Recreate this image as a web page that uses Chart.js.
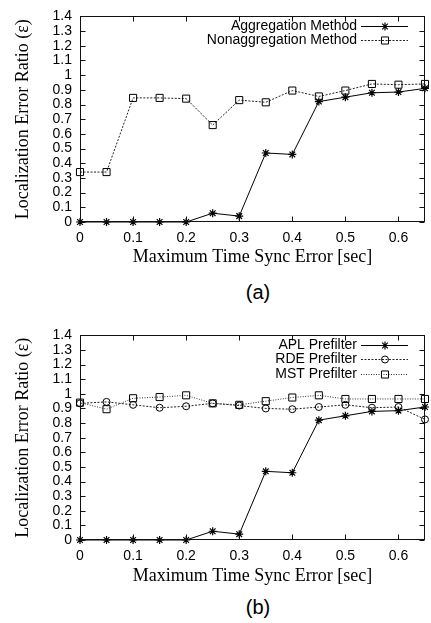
<!DOCTYPE html>
<html><head><meta charset="utf-8">
<script src="https://cdn.jsdelivr.net/npm/chart.js@4/dist/chart.umd.min.js"></script>
<style>
html,body{margin:0;padding:0;background:#fff;width:431px;height:623px;overflow:hidden}
.wrap{position:absolute;left:0;width:431px;height:268px}
.cap{position:absolute;font-family:"Liberation Sans",Arial,sans-serif;font-size:20px;color:#000;width:60px;text-align:center;line-height:24px}
</style></head><body>
<div class="wrap" style="top:0"><canvas id="ca"></canvas></div>
<div class="cap" style="left:228px;top:280px">(a)</div>
<div class="wrap" style="top:319px"><canvas id="cb"></canvas></div>
<div class="cap" style="left:228px;top:595px">(b)</div>
<script>
// ---- data ----
const timeSyncError = [0, 0.05, 0.1, 0.15, 0.2, 0.25, 0.3, 0.35, 0.4, 0.45, 0.5, 0.55, 0.6, 0.65];
const aggregation    = [0, 0, 0, 0, 0, 0.06, 0.04, 0.47, 0.46, 0.82, 0.85, 0.88, 0.885, 0.91];
const nonaggregation = [0.34, 0.34, 0.845, 0.845, 0.84, 0.66, 0.83, 0.815, 0.895, 0.855, 0.895, 0.94, 0.935, 0.94];
const aplPrefilter   = [0, 0, 0, 0, 0, 0.06, 0.04, 0.47, 0.46, 0.82, 0.85, 0.88, 0.885, 0.91];
const rdePrefilter   = [0.935, 0.945, 0.925, 0.905, 0.915, 0.935, 0.92, 0.90, 0.895, 0.91, 0.925, 0.905, 0.91, 0.825];
const mstPrefilter   = [0.94, 0.895, 0.97, 0.978, 0.99, 0.935, 0.925, 0.95, 0.975, 0.99, 0.965, 0.965, 0.965, 0.965];
const xTickValues = [0, 0.1, 0.2, 0.3, 0.4, 0.5, 0.6];
const yTickValues = [0, 0.1, 0.2, 0.3, 0.4, 0.5, 0.6, 0.7, 0.8, 0.9, 1.0, 1.1, 1.2, 1.3, 1.4];
const xTitle = "Maximum Time Sync Error [sec]";
const yTitle = "Localization Error Ratio (ε)";
const labelsA = ["Aggregation Method", "Nonaggregation Method"];
const labelsB = ["APL Prefilter", "RDE Prefilter", "MST Prefilter"];

const pts = arr => timeSyncError.map((x, i) => ({x: x, y: arr[i]}));
const fmt = v => String(Math.round(v * 10) / 10);
const SANS = '"Liberation Sans", Arial, sans-serif';
const SERIF = '"Liberation Serif", "Times New Roman", serif';

function drawMarker(ctx, style, r, x, y) {
  ctx.beginPath();
  if (style === 'star') {
    ctx.moveTo(x - r, y); ctx.lineTo(x + r, y);
    ctx.moveTo(x, y - r); ctx.lineTo(x, y + r);
    const d = r * Math.SQRT1_2;
    ctx.moveTo(x - d, y - d); ctx.lineTo(x + d, y + d);
    ctx.moveTo(x - d, y + d); ctx.lineTo(x + d, y - d);
  } else if (style === 'rect') {
    const s = r * Math.SQRT1_2;
    ctx.rect(x - s, y - s, 2 * s, 2 * s);
  } else {
    ctx.arc(x, y, r, 0, Math.PI * 2);
  }
  ctx.stroke();
}

const gnuPlugin = {
  id: 'gnu',
  afterDraw(chart) {
    const ctx = chart.ctx, a = chart.chartArea;
    const xs = chart.scales.x, ys = chart.scales.y;
    ctx.save();
    ctx.strokeStyle = '#111';
    ctx.lineWidth = 1;
    ctx.setLineDash([]);
    const L = Math.round(a.left) + 0.5, R = Math.round(a.right) - 0.5;
    const T = Math.round(a.top) + 0.5, B = Math.round(a.bottom) - 0.5;
    ctx.strokeRect(L, T, R - L, B - T);
    const tl = 5;
    ctx.beginPath();
    xTickValues.forEach(v => {
      const px = Math.round(xs.getPixelForValue(v)) + 0.5;
      ctx.moveTo(px, B); ctx.lineTo(px, B - tl);
      ctx.moveTo(px, T); ctx.lineTo(px, T + tl);
    });
    yTickValues.forEach(v => {
      const py = Math.round(ys.getPixelForValue(v)) + 0.5;
      ctx.moveTo(L, py); ctx.lineTo(L + tl, py);
      ctx.moveTo(R, py); ctx.lineTo(R - tl, py);
    });
    ctx.stroke();
    // legend (gnuplot style: text right-aligned, sample to the right)
    ctx.font = '14px ' + SANS;
    ctx.textAlign = 'right';
    ctx.textBaseline = 'middle';
    ctx.fillStyle = '#000';
    chart.data.datasets.forEach((ds, i) => {
      const y = Math.round(a.top + 9.5 + i * 14.5) + 0.5;
      ctx.fillText(ds.label, a.right - 68, y);
      ctx.strokeStyle = ds.borderColor;
      ctx.lineWidth = ds.borderWidth;
      ctx.setLineDash(ds.borderDash || []);
      ctx.beginPath();
      ctx.moveTo(a.right - 64, y); ctx.lineTo(a.right - 17, y);
      ctx.stroke();
      ctx.setLineDash([]);
      ctx.strokeStyle = ds.pointBorderColor;
      ctx.lineWidth = ds.pointBorderWidth;
      drawMarker(ctx, ds.pointStyle, ds.pointRadius, a.right - 40, y);
    });
    ctx.restore();
  }
};

function ds(label, arr, style, radius, dash, color, pbw) {
  return {
    label: label, data: pts(arr),
    borderColor: color, borderWidth: 1, borderDash: dash,
    pointStyle: style, pointRadius: radius, pointHoverRadius: radius,
    pointBorderColor: '#000', pointBorderWidth: pbw,
    pointBackgroundColor: 'rgba(0,0,0,0)', backgroundColor: 'rgba(0,0,0,0)',
    fill: false, tension: 0, clip: false
  };
}

function makeChart(id, datasets, xHeight) {
  return new Chart(document.getElementById(id), {
    type: 'line',
    data: { datasets: datasets },
    options: {
      responsive: true, maintainAspectRatio: false, devicePixelRatio: 1,
      animation: false, events: [],
      layout: { padding: { top: 13, right: 2, left: 0, bottom: 0 } },
      plugins: { legend: { display: false }, tooltip: { enabled: false } },
      scales: {
        x: {
          type: 'linear', min: 0, max: 0.65,
          grid: { display: false, drawTicks: false }, border: { display: false },
          ticks: { padding: 8, color: '#000', font: { family: SANS, size: 14 }, maxRotation: 0, autoSkip: false, includeBounds: false, callback: fmt },
          afterBuildTicks: s => { s.ticks = xTickValues.map(v => ({value: v})); },
          afterFit: s => { s.height = xHeight; },
          title: { display: true, text: xTitle, color: '#000', font: { family: SERIF, size: 18, lineHeight: 1.2 }, padding: { top: 0, bottom: 0 } }
        },
        y: {
          type: 'linear', min: 0, max: 1.4,
          grid: { display: false, drawTicks: false }, border: { display: false },
          ticks: { padding: 8, color: '#000', font: { family: SANS, size: 14 }, autoSkip: false, callback: fmt },
          afterBuildTicks: s => { s.ticks = yTickValues.map(v => ({value: v})); },
          afterFit: s => { s.width = 80; },
          title: { display: true, text: yTitle, color: '#000', font: { family: SERIF, size: 18, lineHeight: 1.2 }, padding: { top: 12, bottom: 0 } }
        }
      }
    },
    plugins: [gnuPlugin]
  });
}

makeChart('ca', [
  ds(labelsA[0], aggregation, 'star', 4, [], '#000', 1.2),
  ds(labelsA[1], nonaggregation, 'rect', 5, [2, 1.5], '#222', 1)
], 46);

makeChart('cb', [
  ds(labelsB[0], aplPrefilter, 'star', 4, [], '#000', 1.2),
  ds(labelsB[1], rdePrefilter, 'circle', 3.5, [2, 1.5], '#222', 1),
  ds(labelsB[2], mstPrefilter, 'rect', 5, [1, 1.5], '#333', 1)
], 47);
</script>
</body></html>
